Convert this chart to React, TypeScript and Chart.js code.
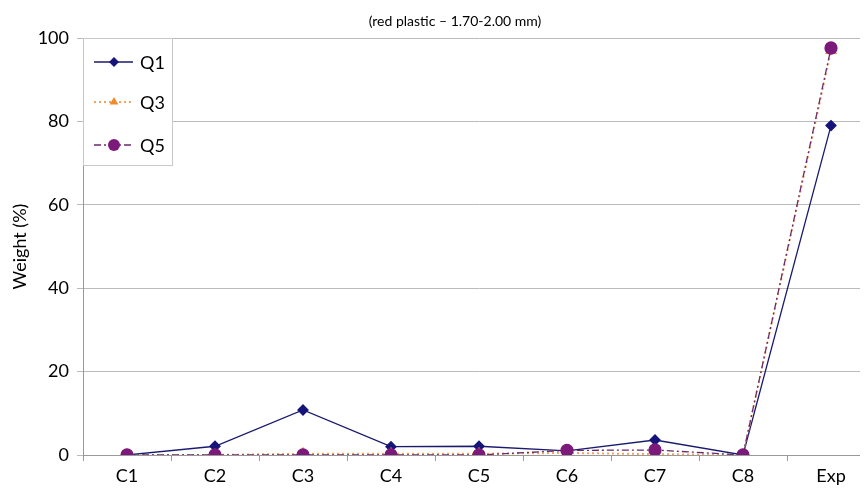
import React, { useEffect, useRef } from "react";
import { Chart, registerables } from "chart.js";

Chart.register(...registerables);

const categories = ["C1", "C2", "C3", "C4", "C5", "C6", "C7", "C8", "Exp"];
const q1Values = [0, 2.1, 10.8, 2.0, 2.1, 1.0, 3.6, 0, 79];
const q3Values = [0, 0, 0.3, 0.3, 0.3, 0.5, 0.2, 0, 97];
const q5Values = [0, 0, 0, 0, 0, 1.1, 1.2, 0, 97.6];
const titleText = "(red plastic \u2013 1.70-2.00 mm)";
const yAxisTitle = "Weight (%)";

const FONT = "Lato, 'Open Sans', sans-serif";

const titlePlugin = {
  id: "offsetTitle",
  afterDraw(chart: any) {
    const ctx = chart.ctx;
    ctx.save();
    ctx.fillStyle = "#000";
    ctx.font = `14px ${FONT}`;
    ctx.textAlign = "center";
    ctx.textBaseline = "middle";
    ctx.fillText(titleText, 455, 21);
    ctx.restore();
  },
};

const legendPlugin = {
  id: "boxLegend",
  afterDatasetsDraw(chart: any) {
    const ctx = chart.ctx;
    const area = chart.chartArea;
    const x0 = area.left;
    const y0 = area.top;
    const w = 89;
    const h = 127;
    ctx.save();
    ctx.fillStyle = "#ffffff";
    ctx.fillRect(x0, y0, w, h);
    ctx.strokeStyle = "#c8c8c8";
    ctx.lineWidth = 1;
    ctx.strokeRect(x0 + 0.5, y0 + 0.5, w, h);
    const rows = [24, 64, 107];
    chart.data.datasets.forEach((ds: any, i: number) => {
      const cy = y0 + rows[i];
      ctx.save();
      ctx.strokeStyle = ds.borderColor;
      ctx.lineWidth = ds.borderWidth;
      ctx.setLineDash(ds.borderDash || []);
      ctx.beginPath();
      ctx.moveTo(x0 + 11, cy);
      ctx.lineTo(x0 + 50, cy);
      ctx.stroke();
      ctx.restore();
      ctx.save();
      ctx.fillStyle = ds.pointBackgroundColor;
      const style = ds.pointStyle;
      const r = ds.pointRadius;
      const cx = x0 + 31;
      ctx.beginPath();
      if (style === "rectRot") {
        ctx.moveTo(cx, cy - r);
        ctx.lineTo(cx + r, cy);
        ctx.lineTo(cx, cy + r);
        ctx.lineTo(cx - r, cy);
        ctx.closePath();
      } else if (style === "triangle") {
        ctx.moveTo(cx, cy - r);
        ctx.lineTo(cx + r * 0.87, cy + r * 0.5);
        ctx.lineTo(cx - r * 0.87, cy + r * 0.5);
        ctx.closePath();
      } else {
        ctx.arc(cx, cy, r, 0, Math.PI * 2);
      }
      ctx.fill();
      ctx.restore();
      ctx.fillStyle = "#000";
      ctx.font = `18px ${FONT}`;
      ctx.textBaseline = "middle";
      ctx.textAlign = "left";
      ctx.fillText(ds.label, x0 + 57, cy + 1);
    });
    ctx.restore();
  },
};

export default function App() {
  const ref = useRef<HTMLCanvasElement | null>(null);
  useEffect(() => {
    if (!ref.current) return;
    const chart = new Chart(ref.current, {
      type: "line",
      data: {
        labels: categories,
        datasets: [
          {
            label: "Q1",
            data: q1Values,
            borderColor: "#1a1a6e",
            backgroundColor: "#1a1a6e",
            pointBackgroundColor: "#14147a",
            pointBorderColor: "#14147a",
            borderWidth: 1.3,
            pointStyle: "rectRot",
            pointRadius: 5,
            order: 3,
          } as any,
          {
            label: "Q3",
            data: q3Values,
            borderColor: "#f5a35c",
            backgroundColor: "#f08a2c",
            pointBackgroundColor: "#f08a2c",
            pointBorderColor: "#f08a2c",
            borderWidth: 2,
            borderDash: [2, 3],
            pointStyle: "triangle",
            pointRadius: 5,
            order: 2,
          } as any,
          {
            label: "Q5",
            data: q5Values,
            borderColor: "#6b2a6b",
            backgroundColor: "#7b1a7b",
            pointBackgroundColor: "#7b1a7b",
            pointBorderColor: "#7b1a7b",
            borderWidth: 1.3,
            borderDash: [7, 3, 2, 3],
            pointStyle: "circle",
            pointRadius: 6,
            order: 1,
          } as any,
        ],
      },
      options: {
        responsive: false,
        animation: false,
        layout: { padding: { right: 35, left: 0, top: 38, bottom: 0 } },
        plugins: {
          legend: { display: false },
          tooltip: { enabled: false },
          title: { display: false },
        },
        scales: {
          x: {
            offset: true,
            grid: {
              display: true,
              drawOnChartArea: false,
              offset: true,
              tickLength: 6,
              color: "#999",
            },
            border: { color: "#999" },
            ticks: {
              color: "#000",
              font: { family: FONT, size: 18 },
              padding: 4,
            },
            afterFit: (s: any) => {
              s.height = 42;
            },
          },
          y: {
            min: 0,
            max: 100,
            ticks: {
              stepSize: 20,
              color: "#000",
              font: { family: FONT, size: 18 },
              padding: 8,
            },
            grid: { color: "#bbb", tickLength: 6 },
            border: { color: "#999" },
            title: {
              display: true,
              text: yAxisTitle,
              color: "#000",
              font: { family: FONT, size: 18 },
              padding: { top: 9, bottom: 0 },
            },
            afterFit: (s: any) => {
              s.width = 83;
            },
          },
        },
      },
      plugins: [legendPlugin, titlePlugin],
    });
    return () => chart.destroy();
  }, []);
  return (
    <div
      style={{
        position: "relative",
        width: 868,
        height: 497,
        margin: -8,
        overflow: "hidden",
        background: "#fff",
      }}
    >
      <canvas ref={ref} width={910} height={497} style={{ display: "block", width: 910, height: 497 }} />
    </div>
  );
}
